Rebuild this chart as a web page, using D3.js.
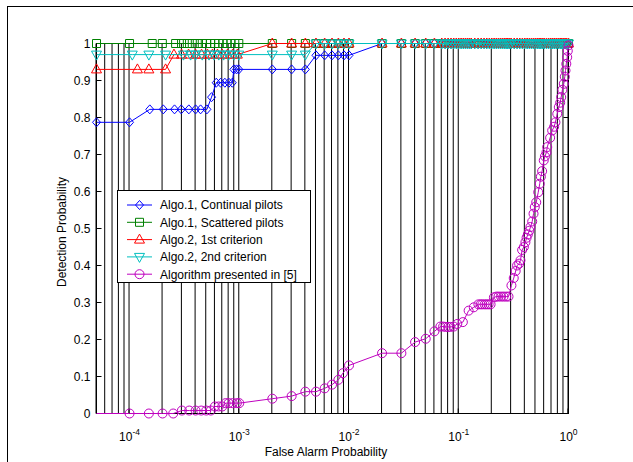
<!DOCTYPE html>
<html>
<head>
<meta charset="utf-8">
<script src="https://cdn.jsdelivr.net/npm/d3@7"></script>
<style>
  body { margin: 0; background: #fff; }
  svg { display: block; font-family: "Liberation Sans", Arial, sans-serif; }
</style>
</head>
<body>
<div id="chart"></div>
<script>
// ---- data ----
// shared dense tail where the four proposed detectors all reach Pd = 1
const tailPfa = [0.02, 0.03, 0.04, 0.05, 0.06, 0.07, 0.075, 0.08, 0.085, 0.09, 0.095, 0.1,
  0.105, 0.11, 0.115, 0.12, 0.125, 0.13, 0.14, 0.15, 0.16, 0.17, 0.18, 0.19, 0.2,
  0.21, 0.22, 0.23, 0.24, 0.25, 0.26, 0.27, 0.28, 0.29, 0.3, 0.32, 0.34, 0.36, 0.38, 0.4,
  0.42, 0.44, 0.46, 0.48, 0.5, 0.52, 0.54, 0.56, 0.58, 0.6, 0.63, 0.66, 0.69, 0.72, 0.75,
  0.78, 0.81, 0.84, 0.87, 0.9, 0.93, 0.96, 1];
const tailPd = [1, 1, 1, 1, 1, 1, 1, 1, 1, 1, 1, 1,
  1, 1, 1, 1, 1, 1, 1, 1, 1, 1, 1, 1, 1,
  1, 1, 1, 1, 1, 1, 1, 1, 1, 1, 1, 1, 1, 1, 1,
  1, 1, 1, 1, 1, 1, 1, 1, 1, 1, 1, 1, 1, 1, 1,
  1, 1, 1, 1, 1, 1, 1, 1];

const pfaContinual = [5e-5, 1e-4, 1.53e-4, 2.03e-4, 2.57e-4, 2.96e-4, 3.47e-4, 4.0e-4, 4.44e-4, 5.07e-4,
  5.59e-4, 6.17e-4, 6.76e-4, 7.39e-4, 8.04e-4, 8.63e-4, 8.93e-4, 9.44e-4, 9.9e-4,
  0.002, 0.003, 0.004, 0.005, 0.006, 0.007, 0.008, 0.009, 0.01];
const pdContinual = [0.787, 0.787, 0.822, 0.822, 0.822, 0.822, 0.822, 0.822, 0.822, 0.822,
  0.855, 0.894, 0.894, 0.894, 0.894, 0.894, 0.930, 0.930, 0.930,
  0.930, 0.930, 0.930, 0.968, 0.968, 0.968, 0.968, 0.968, 0.968];

const pfaScattered = [5e-5, 1e-4, 1.61e-4, 1.99e-4, 2.63e-4, 2.98e-4, 3.36e-4, 3.73e-4, 4.14e-4, 4.6e-4,
  5.03e-4, 5.47e-4, 5.98e-4, 6.5e-4, 7.1e-4, 7.77e-4, 8.4e-4, 9.1e-4, 9.9e-4,
  0.002, 0.003, 0.004, 0.005, 0.006, 0.007, 0.008, 0.009, 0.01];
const pdScattered = [1, 1, 1, 1, 1, 1, 1, 1, 1, 1,
  1, 1, 1, 1, 1, 1, 1, 1, 1,
  1, 1, 1, 1, 1, 1, 1, 1, 1];

const pfaCrit1 = [5e-5, 1.18e-4, 1.5e-4, 2.13e-4, 2.54e-4, 2.98e-4, 3.45e-4, 4.0e-4, 4.53e-4, 5.13e-4,
  5.7e-4, 6.33e-4, 7.0e-4, 7.8e-4, 8.7e-4, 9.6e-4,
  0.002, 0.003, 0.004, 0.005, 0.006, 0.007, 0.008, 0.009, 0.01];
const pdCrit1 = [0.93, 0.93, 0.93, 0.93, 0.97, 0.97, 0.97, 0.97, 0.97, 0.97,
  0.97, 0.97, 0.97, 0.97, 0.97, 0.97,
  1, 1, 1, 1, 1, 1, 1, 1, 1];

const pfaCrit2 = [5e-5, 1.06e-4, 1.5e-4, 2.13e-4, 3.1e-4, 3.6e-4, 4.0e-4, 4.6e-4, 5.3e-4, 5.9e-4,
  6.5e-4, 7.2e-4, 8.0e-4, 8.9e-4, 9.9e-4,
  0.002, 0.003, 0.004, 0.005, 0.006, 0.007, 0.008, 0.009, 0.01];
const pdCrit2 = [0.97, 0.97, 0.97, 0.97, 0.97, 0.97, 0.97, 0.97, 0.97, 0.97,
  0.97, 0.97, 0.97, 0.97, 0.97,
  0.97, 0.97, 0.97, 1, 1, 1, 1, 1, 1];

const pfaRef5 = [4e-5, 1e-4, 1.5e-4, 2e-4, 2.5e-4, 3e-4, 3.5e-4, 4e-4, 4.5e-4, 5e-4, 5.5e-4,
  6e-4, 6.5e-4, 7e-4, 7.5e-4, 8e-4, 8.7e-4, 9.5e-4, 1e-3,
  0.002, 0.003, 0.004, 0.005, 0.006, 0.007, 0.008, 0.0088, 0.01,
  0.02, 0.03, 0.04, 0.05, 0.06, 0.068, 0.072, 0.076, 0.08, 0.084, 0.09, 0.097,
  0.109, 0.123, 0.137, 0.151, 0.158, 0.164, 0.172, 0.179, 0.187, 0.195, 0.209, 0.22, 0.23, 0.243, 0.256, 0.27, 0.284,
  0.302, 0.317, 0.33, 0.34, 0.355, 0.365, 0.378, 0.392, 0.405, 0.415, 0.426, 0.44, 0.45, 0.467, 0.48, 0.493, 0.508,
  0.53, 0.547, 0.56, 0.575, 0.595, 0.61, 0.63, 0.64, 0.68, 0.71, 0.74, 0.76, 0.79, 0.816, 0.84, 0.858, 0.88, 0.906,
  0.925, 0.939, 0.955, 0.973, 0.985, 1];
const pdRef5 = [0, 0, 0, 0, 0, 0.008, 0.008, 0.008, 0.008, 0.008, 0.008,
  0.019, 0.019, 0.019, 0.028, 0.028, 0.028, 0.028, 0.028,
  0.040, 0.047, 0.059, 0.059, 0.068, 0.078, 0.091, 0.109, 0.130,
  0.163, 0.163, 0.193, 0.202, 0.222, 0.235, 0.235, 0.234, 0.234, 0.234, 0.235, 0.242,
  0.247, 0.278, 0.287, 0.295, 0.295, 0.295, 0.295, 0.295, 0.295, 0.295, 0.314, 0.316, 0.316, 0.316, 0.316, 0.316, 0.316,
  0.346, 0.366, 0.385, 0.400, 0.405, 0.414, 0.442, 0.45, 0.463, 0.475, 0.484, 0.494, 0.504, 0.519, 0.54, 0.558, 0.571,
  0.598, 0.621, 0.64, 0.655, 0.684, 0.695, 0.706, 0.720, 0.745, 0.765, 0.775, 0.787, 0.81, 0.828, 0.84, 0.855, 0.875, 0.891,
  0.91, 0.927, 0.945, 0.963, 0.98, 0.995];

const seriesNames = ["Algo.1, Continual pilots", "Algo.1, Scattered pilots",
  "Algo.2, 1st criterion", "Algo.2, 2nd criterion", "Algorithm presented in [5]"];
const yTickValues = [0, 0.1, 0.2, 0.3, 0.4, 0.5, 0.6, 0.7, 0.8, 0.9, 1];
const yTickLabels = ["0", "0.1", "0.2", "0.3", "0.4", "0.5", "0.6", "0.7", "0.8", "0.9", "1"];
const xDecades = [1e-4, 1e-3, 1e-2, 1e-1, 1];
const xDecadeExp = ["-4", "-3", "-2", "-1", "0"];

// ---- build ----
const width = 633, height = 462;
const margin = { top: 43, right: 65, bottom: 49, left: 96 };
const innerW = width - margin.left - margin.right;
const innerH = height - margin.top - margin.bottom;

const zip = (xs, ys) => xs.map((v, i) => ({ pfa: v, pd: ys[i] }));
const series = [
  { name: seriesNames[0], color: "#0000ff", marker: "diamond", data: zip(pfaContinual.concat(tailPfa), pdContinual.concat(tailPd)) },
  { name: seriesNames[1], color: "#008000", marker: "square", data: zip(pfaScattered.concat(tailPfa), pdScattered.concat(tailPd)) },
  { name: seriesNames[2], color: "#ff0000", marker: "triUp", data: zip(pfaCrit1.concat(tailPfa), pdCrit1.concat(tailPd)) },
  { name: seriesNames[3], color: "#00bfbf", marker: "triDown", data: zip(pfaCrit2.concat(tailPfa), pdCrit2.concat(tailPd)) },
  { name: seriesNames[4], color: "#bf00bf", marker: "circle", data: zip(pfaRef5, pdRef5) }
];

const markerPath = {
  diamond: "M0,-4.5L4,0L0,4.5L-4,0Z",
  square: "M-4,-4H4V4H-4Z",
  triUp: "M0,-5.5L5,3.5L-5,3.5Z",
  triDown: "M0,5.5L5,-3.5L-5,-3.5Z",
  circle: "M4.5,0A4.5,4.5 0 1,1 -4.5,0A4.5,4.5 0 1,1 4.5,0Z"
};

const svg = d3.select("#chart").append("svg")
  .attr("width", width)
  .attr("height", height);

// outer figure frame
svg.append("rect")
  .attr("x", 7.5).attr("y", 6.5)
  .attr("width", 700).attr("height", 500)
  .attr("fill", "none")
  .attr("stroke", "#000");

const g = svg.append("g")
  .attr("transform", `translate(${margin.left + 0.5},${margin.top + 0.5})`);

const x = d3.scaleLog().domain([5e-5, 1]).range([0, innerW]);
const y = d3.scaleLinear().domain([0, 1]).range([innerH, 0]);

svg.append("defs").append("clipPath").attr("id", "plotClip")
  .append("rect")
  .attr("x", 0).attr("y", -20)
  .attr("width", innerW).attr("height", innerH + 40);

// vertical log grid (solid, major + minor)
g.append("g")
  .selectAll("line")
  .data(x.ticks())
  .enter()
  .append("line")
  .attr("x1", d => x(d) - 0.5).attr("x2", d => x(d) - 0.5)
  .attr("y1", 0).attr("y2", innerH)
  .attr("stroke", "#000")
  .attr("stroke-width", 1);

// axes box
g.append("rect")
  .attr("x", 0).attr("y", 0)
  .attr("width", innerW).attr("height", innerH)
  .attr("fill", "none")
  .attr("stroke", "#000");

// y ticks left and right
g.append("g").selectAll("line")
  .data(yTickValues)
  .enter().append("line")
  .attr("x1", 0).attr("x2", 5)
  .attr("y1", d => Math.round(y(d))).attr("y2", d => Math.round(y(d)))
  .attr("stroke", "#000");
g.append("g").selectAll("line")
  .data(yTickValues)
  .enter().append("line")
  .attr("x1", innerW - 5).attr("x2", innerW)
  .attr("y1", d => Math.round(y(d))).attr("y2", d => Math.round(y(d)))
  .attr("stroke", "#000");

g.append("g").selectAll("text")
  .data(yTickValues)
  .enter().append("text")
  .attr("x", -6)
  .attr("y", d => y(d))
  .attr("dy", "0.36em")
  .attr("text-anchor", "end")
  .attr("font-size", 12)
  .text((d, i) => yTickLabels[i]);

// x decade ticks bottom
g.append("g").selectAll("line")
  .data(xDecades)
  .enter().append("line")
  .attr("x1", d => x(d) - 0.5).attr("x2", d => x(d) - 0.5)
  .attr("y1", innerH).attr("y2", innerH - 5)
  .attr("stroke", "#000");

const xl = g.append("g").selectAll("text")
  .data(xDecades)
  .enter().append("text")
  .attr("x", d => x(d))
  .attr("y", innerH + 27)
  .attr("text-anchor", "middle")
  .attr("font-size", 12);
xl.append("tspan").text("10");
xl.append("tspan")
  .attr("dy", -6)
  .attr("font-size", 8.5)
  .text((d, i) => xDecadeExp[i]);

// axis titles
svg.append("text")
  .attr("x", 326)
  .attr("y", 456)
  .attr("text-anchor", "middle")
  .attr("font-size", 12)
  .text("False Alarm Probability");

svg.append("text")
  .attr("transform", "translate(66,232) rotate(-90)")
  .attr("text-anchor", "middle")
  .attr("font-size", 12)
  .text("Detection Probability");

// data
const line = d3.line()
  .x(d => x(d.pfa))
  .y(d => y(d.pd));

series.forEach(s => {
  const sg = g.append("g");
  sg.append("path")
    .datum(s.data)
    .attr("clip-path", "url(#plotClip)")
    .attr("fill", "none")
    .attr("stroke", s.color)
    .attr("stroke-width", 1)
    .attr("d", line);

  sg.selectAll("path.mk")
    .data(s.data.filter(d => d.pfa >= 5e-5))
    .enter().append("path")
    .attr("class", "mk")
    .attr("transform", d => `translate(${x(d.pfa)},${y(d.pd)})`)
    .attr("d", markerPath[s.marker])
    .attr("fill", "none")
    .attr("stroke", s.color)
    .attr("stroke-width", 1);
});

// legend
const legend = svg.append("g");
legend.append("rect")
  .attr("x", 117.5).attr("y", 190.5)
  .attr("width", 193).attr("height", 92)
  .attr("fill", "#fff")
  .attr("stroke", "#000");

const li = legend.selectAll("g.item")
  .data(series)
  .enter().append("g")
  .attr("class", "item")
  .attr("transform", (d, i) => `translate(0,${205 + i * 17.3})`);

li.append("line")
  .attr("x1", 127).attr("x2", 152)
  .attr("y1", 0).attr("y2", 0)
  .attr("stroke", d => d.color);
li.append("path")
  .attr("transform", "translate(139.5,0)")
  .attr("d", d => markerPath[d.marker])
  .attr("fill", "none")
  .attr("stroke", d => d.color);
li.append("text")
  .attr("x", 160)
  .attr("y", 0)
  .attr("dy", "0.36em")
  .attr("font-size", 12)
  .text(d => d.name);
</script>
</body>
</html>
